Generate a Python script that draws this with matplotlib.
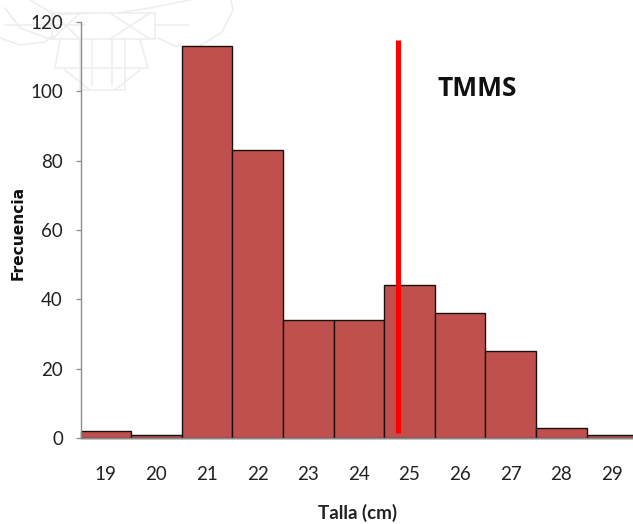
"""Histogram of talla with the TMMS marker."""
import matplotlib
matplotlib.use("Agg")
import matplotlib.pyplot as plt
from matplotlib.lines import Line2D

W, H = 633, 524
BAR, EDGE, AXISC = "#c0504d", "#1a1010", "#8c8c8c"

tallas = [19, 20, 21, 22, 23, 24, 25, 26, 27, 28, 29]
frecuencia = [2, 1, 113, 83, 34, 34, 44, 36, 25, 3, 1]
yticks = [0, 20, 40, 60, 80, 100, 120]
tmms_x = 24.78
tmms_y = [1.5, 114.8]

# faint emblem behind the chart, traced in picture pixels
emblem = [
    ([52, 155, 155, 52, 52], [13, 13, 39, 39, 13]),
    ([5, 28, 85], [25, 25, 25]), ([155, 188], [25, 25]),
    ([5, 20, 50], [8, 28, 39]), ([0, 20, 45, 52], [38, 45, 42, 36]),
    ([60, 55, 148, 140], [40, 68, 68, 40]),
    ([80, 80, 125, 125], [40, 90, 90, 40]), ([92, 92], [40, 85]), ([112, 112], [40, 85]),
    ([65, 80, 90], [70, 82, 90]), ([140, 125, 115], [70, 82, 90]),
    ([52, 80], [13, 39]), ([80, 52], [13, 39]), ([110, 150], [13, 39]), ([150, 110], [13, 39]),
    ([158, 175, 200, 222, 233, 231], [38, 46, 46, 32, 10, 0]),
    ([30, 55, 90], [0, 15, 13]), ([190, 150, 118], [0, 8, 13]),
]

plt.rcParams.update({"font.family": ["Lato", "DejaVu Sans"], "axes.spines.top": False,
                     "axes.spines.right": False})

fig = plt.figure(figsize=(W / 100, H / 100), dpi=100, facecolor="white")
for xs, ys in emblem:
    fig.add_artist(Line2D([x / W for x in xs], [1 - y / H for y in ys], color="#f0eded", lw=1.2, zorder=0))

# axes runs slightly past the right edge of the picture, like the cropped original
ax = fig.add_axes([80.5 / W, (H - 438) / H, 556.6 / W, 416 / H])
ax.patch.set_alpha(0)
ax.bar(tallas, frecuencia, width=1.0, color=BAR, edgecolor=EDGE, linewidth=1.0, zorder=2, clip_on=False)
ax.plot([tmms_x, tmms_x], tmms_y, color="#ff0000", lw=3.7, solid_capstyle="butt", zorder=3)

ax.set_xlim(18.5, 29.5)
ax.set_ylim(0, 120)
ax.set_yticks(yticks)
ax.set_xticks(tallas)
ax.tick_params(axis="y", length=3.6, width=0.9, color=AXISC, labelsize=13.5, labelcolor="#222222", pad=9)
ax.tick_params(axis="x", length=0, labelsize=13.5, labelcolor="#222222", pad=20)
for side in ("left", "bottom"):
    ax.spines[side].set_color(AXISC)
    ax.spines[side].set_linewidth(1.0)
ax.spines["bottom"].set_zorder(4)

fig.text(18 / W, 1 - 233 / H, "Frecuencia", rotation=90, ha="center", va="center",
         family=["DejaVu Sans"], fontweight="bold", fontsize=11.2, color="#111111")
fig.text(358 / W, 1 - 513 / H, "Talla (cm)", ha="center", va="center",
         fontweight="bold", fontsize=13.5, color="#222222")
fig.text(477 / W, 1 - 89 / H, "TMMS", ha="center", va="center",
         family=["Open Sans", "DejaVu Sans"], fontweight="bold", fontsize=19, color="#111111")

fig.savefig("out.png", dpi=100)
